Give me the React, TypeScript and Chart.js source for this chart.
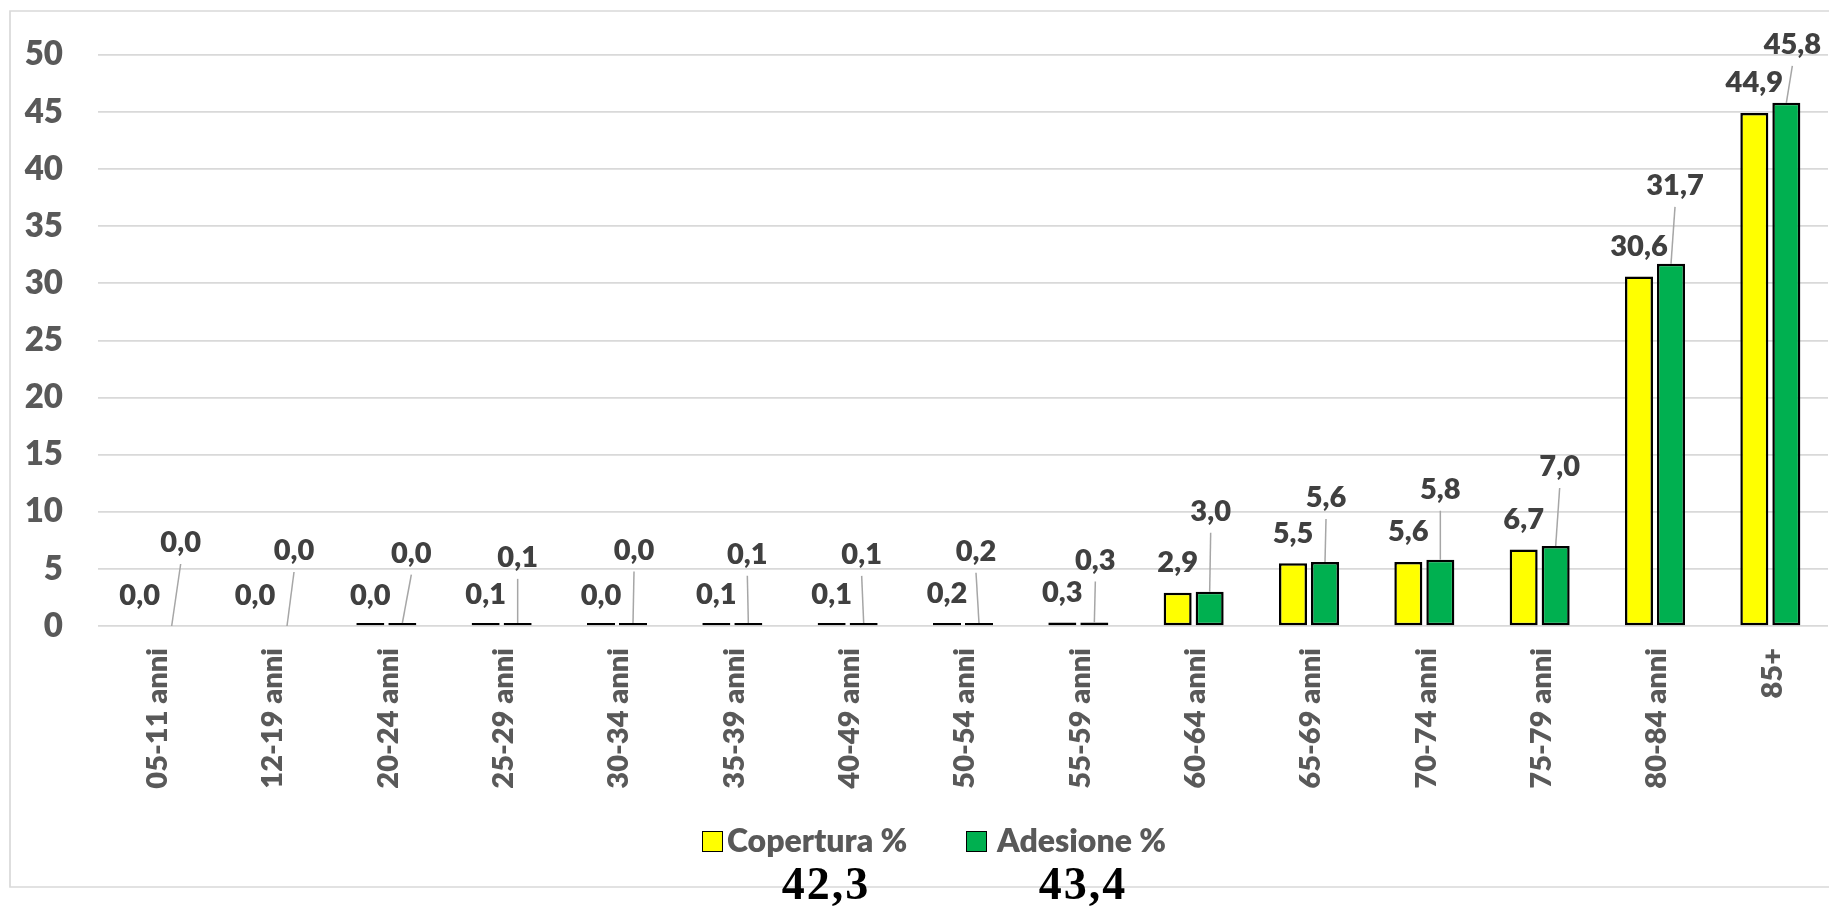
import React, { useEffect, useRef } from "react";
import { Chart, registerables } from "chart.js";
Chart.register(...registerables);

const categories = [
  "05-11 anni", "12-19 anni", "20-24 anni", "25-29 anni", "30-34 anni",
  "35-39 anni", "40-49 anni", "50-54 anni", "55-59 anni", "60-64 anni",
  "65-69 anni", "70-74 anni", "75-79 anni", "80-84 anni", "85+",
];
const copertura = [0, 0, 0.04, 0.1, 0.04, 0.1, 0.1, 0.2, 0.3, 2.9, 5.5, 5.6, 6.7, 30.6, 44.9];
const adesione = [0, 0, 0.04, 0.1, 0.04, 0.1, 0.1, 0.2, 0.3, 3.0, 5.6, 5.8, 7.0, 31.7, 45.8];
const seriesNames = ["Copertura %", "Adesione %"];
const totals = ["42,3", "43,4"];
const yMin = 0;
const yMax = 50;
const yStep = 5;

// label callout placement for the Adesione series (dx, dy in px from bar value point)
const adesioneLabelOffsets = [
  [9, -83], [7, -75], [9, -72], [0, -67], [1, -75], [-1, -70], [-2, -70], [-3, -72],
  [1, -62], [1, -80], [1, -64], [0, -70], [4, -79], [4, -78], [6, -58],
];

const YELLOW = "#FFFF00";
const GREEN = "#00B050";
const FONT = "Lato";
const W = "800";

const fmt = (v: number) => v.toFixed(1).replace(".", ",");

const labelPlugin = {
  id: "valueLabels",
  afterDatasetsDraw(chart: any) {
    const ctx = chart.ctx;
    const ys = chart.scales.y;
    const xs = chart.scales.x;
    const m0 = chart.getDatasetMeta(0);
    const m1 = chart.getDatasetMeta(1);
    ctx.save();
    // category labels (rotated, text end just below the axis)
    ctx.font = `${W} 29px ${FONT}`;
    ctx.fillStyle = "#595959";
    categories.forEach((c, i) => {
      const x = xs.getPixelForValue(i);
      ctx.save();
      ctx.translate(x + 2, chart.chartArea.bottom + 22);
      ctx.rotate(-Math.PI / 2);
      ctx.textAlign = "right";
      ctx.textBaseline = "middle";
      ctx.fillText(c, 0, 0);
      ctx.restore();
    });
    // value labels
    ctx.font = `${W} 29px ${FONT}`;
    ctx.fillStyle = "#404040";
    ctx.textAlign = "center";
    ctx.textBaseline = "middle";
    copertura.forEach((v, i) => {
      const el = m0.data[i];
      const py = ys.getPixelForValue(v);
      ctx.fillText(fmt(v), el.x, py - 30);
    });
    adesione.forEach((v, i) => {
      const el = m1.data[i];
      const py = ys.getPixelForValue(v);
      const [dx, dy] = adesioneLabelOffsets[i];
      const lx = el.x + dx;
      const ly = py + dy;
      const endY = v === 0 ? py : el.y;
      ctx.strokeStyle = "#a6a6a6";
      ctx.lineWidth = 1.5;
      ctx.beginPath();
      ctx.moveTo(lx, ly + 21);
      ctx.lineTo(el.x, endY);
      ctx.stroke();
      ctx.fillStyle = "#404040";
      ctx.fillText(fmt(v), lx, ly);
    });
    ctx.restore();
  },
};

const framePlugin = {
  id: "frame",
  beforeDraw(chart: any) {
    const ctx = chart.ctx;
    ctx.save();
    ctx.fillStyle = "#ffffff";
    ctx.fillRect(0, 0, chart.width, chart.height);
    ctx.strokeStyle = "#d9d9d9";
    ctx.lineWidth = 1.7;
    ctx.beginPath();
    ctx.moveTo(1829, 11);
    ctx.lineTo(10, 11);
    ctx.lineTo(10, 887);
    ctx.lineTo(1829, 887);
    ctx.stroke();
    ctx.restore();
  },
};

export default function App() {
  const ref = useRef<HTMLCanvasElement>(null);
  useEffect(() => {
    let chart: Chart | null = null;
    let cancelled = false;
    const make = () => {
      if (cancelled || !ref.current) return;
      const barOpts = (color: string) => ({
        backgroundColor: (c: any) => (c.raw === 0 ? "rgba(0,0,0,0)" : color),
        borderColor: "#000000",
        borderWidth: (c: any) => (c.raw === 0 ? 0 : 2.5),
        borderSkipped: false as const,
        minBarLength: 3,
        categoryPercentage: 0.555,
        barPercentage: 0.875,
      });
      chart = new Chart(ref.current, {
        type: "bar",
        data: {
          labels: categories,
          datasets: [
            { label: seriesNames[0], data: copertura, ...barOpts(YELLOW) },
            { label: seriesNames[1], data: adesione, ...barOpts(GREEN) },
          ],
        },
        options: {
          responsive: false,
          animation: false,
          layout: { padding: { left: 10, right: 8, top: 47, bottom: 82 } },
          plugins: { legend: { display: false }, tooltip: { enabled: false } },
          scales: {
            x: {
              grid: { display: false, drawTicks: false },
              border: { display: false },
              ticks: { display: false },
              afterFit: (s: any) => { s.height = 200; },
            },
            y: {
              min: yMin,
              max: yMax,
              ticks: {
                stepSize: yStep,
                font: { family: FONT, size: 33, weight: W },
                color: "#595959",
                padding: 35,
              },
              grid: { color: "#d9d9d9", lineWidth: 1.7, drawTicks: false },
              border: { display: false },
              afterFit: (s: any) => { s.width = 88; },
            },
          },
        },
        plugins: [framePlugin, labelPlugin],
      } as any);
    };
    const fonts = (document as any).fonts;
    if (fonts && fonts.load) {
      Promise.all([
        fonts.load(`${W} 29px ${FONT}`),
        fonts.load(`bold 45px "Liberation Serif"`),
      ]).then(make, make);
    } else make();
    return () => {
      cancelled = true;
      if (chart) chart.destroy();
    };
  }, []);

  const legendText: React.CSSProperties = {
    position: "absolute",
    fontFamily: FONT,
    fontWeight: 800,
    fontSize: 32,
    lineHeight: "38.4px",
    color: "#595959",
    top: 821,
    whiteSpace: "nowrap",
  };
  const box = (left: number, color: string): React.CSSProperties => ({
    position: "absolute",
    left,
    top: 831,
    width: 21,
    height: 21,
    boxSizing: "border-box",
    border: "1.5px solid #000",
    background: color,
  });
  const total = (center: number): React.CSSProperties => ({
    position: "absolute",
    left: center - 100,
    width: 200,
    textAlign: "center",
    top: 861,
    fontFamily: '"Liberation Serif", serif',
    fontWeight: "bold",
    fontSize: 46,
    lineHeight: 1,
    letterSpacing: 2,
    color: "#000",
    whiteSpace: "nowrap",
  });

  return (
    <div style={{ position: "fixed", left: 0, top: 0, width: 1836, height: 908, background: "#fff" }}>
      <canvas ref={ref} width={1836} height={908} style={{ display: "block" }} />
      <div style={box(702, YELLOW)} />
      <div style={{ ...legendText, left: 727 }}>{seriesNames[0]}</div>
      <div style={box(966, GREEN)} />
      <div style={{ ...legendText, left: 997 }}>{seriesNames[1]}</div>
      <div style={total(826)}>{totals[0]}</div>
      <div style={total(1083)}>{totals[1]}</div>
    </div>
  );
}
